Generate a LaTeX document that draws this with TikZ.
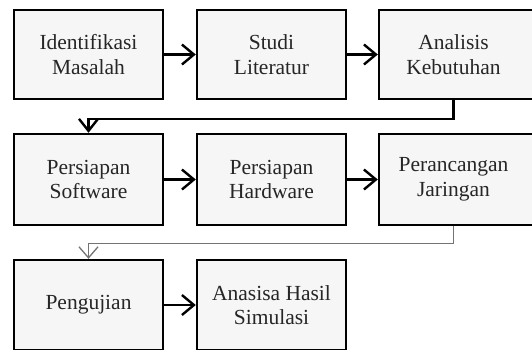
\documentclass[tikz,border=0pt]{standalone}
\usepackage{fontspec}
\setmainfont{Liberation Serif}
\usetikzlibrary{arrows.meta}
\begin{document}
\begin{tikzpicture}[x=1pt,y=-1pt,
  stepbox/.style={draw=black, line width=2.4pt, fill=gray!7, minimum width=149pt, minimum height=89pt,
    align=center, inner sep=0pt, text=black!85,
    font=\fontsize{21.5pt}{24.5pt}\selectfont},
  widebox/.style={stepbox, minimum width=161pt},
  flow/.style={line width=2.4pt, -{Straight Barb[length=12pt,width=20pt,line width=2.4pt]}},
  down/.style={line width=2.4pt, -{Straight Barb[length=12pt,width=19pt,line width=2.4pt]}},
  thin/.style={draw=black!55, line width=1.3pt, -{Straight Barb[length=11pt,width=19pt,line width=1.3pt]}}]
\useasboundingbox (0,0) rectangle (532,349);
\clip (0,0) rectangle (532,349);
\fill[white] (0,0) rectangle (532,349);
\node[stepbox] (b1) at (88.5,54.5) {Identifikasi\\Masalah};
\node[stepbox] (b2) at (271.5,54.5) {Studi\\Literatur};
\node[widebox] (b3) at (459.5,54.5) {\hspace*{-12pt}Analisis\\\hspace*{-12pt}Kebutuhan};
\node[stepbox, minimum height=91pt] (b4) at (88.5,179.5) {Persiapan\\Software};
\node[stepbox, minimum height=91pt] (b5) at (271.5,179.5) {Persiapan\\Hardware};
\node[widebox, minimum height=91pt] (b6) at (459.5,179.5) {\hspace*{-12pt}Perancangan\\\hspace*{-12pt}Jaringan};
\node[stepbox, minimum height=90pt] (b7) at (88.5,305) {Pengujian};
\node[stepbox, minimum height=90pt] (b8) at (271.5,305) {Anasisa Hasil\\Simulasi};
\draw[flow] (b1.east) -- (b2.west);
\draw[flow] (b2.east) -- (b3.west);
\draw[flow] (b4.east) -- (b5.west);
\draw[flow] (b5.east) -- (b6.west);
\draw[flow] (b7.east) -- (b8.west);
\draw[down] ([xshift=-6pt]b3.south) -- ++(0,19) -| (b4.north);
\draw[thin] ([xshift=-6pt]b6.south) -- ++(0,17) -| (b7.north);
\end{tikzpicture}
\end{document}
